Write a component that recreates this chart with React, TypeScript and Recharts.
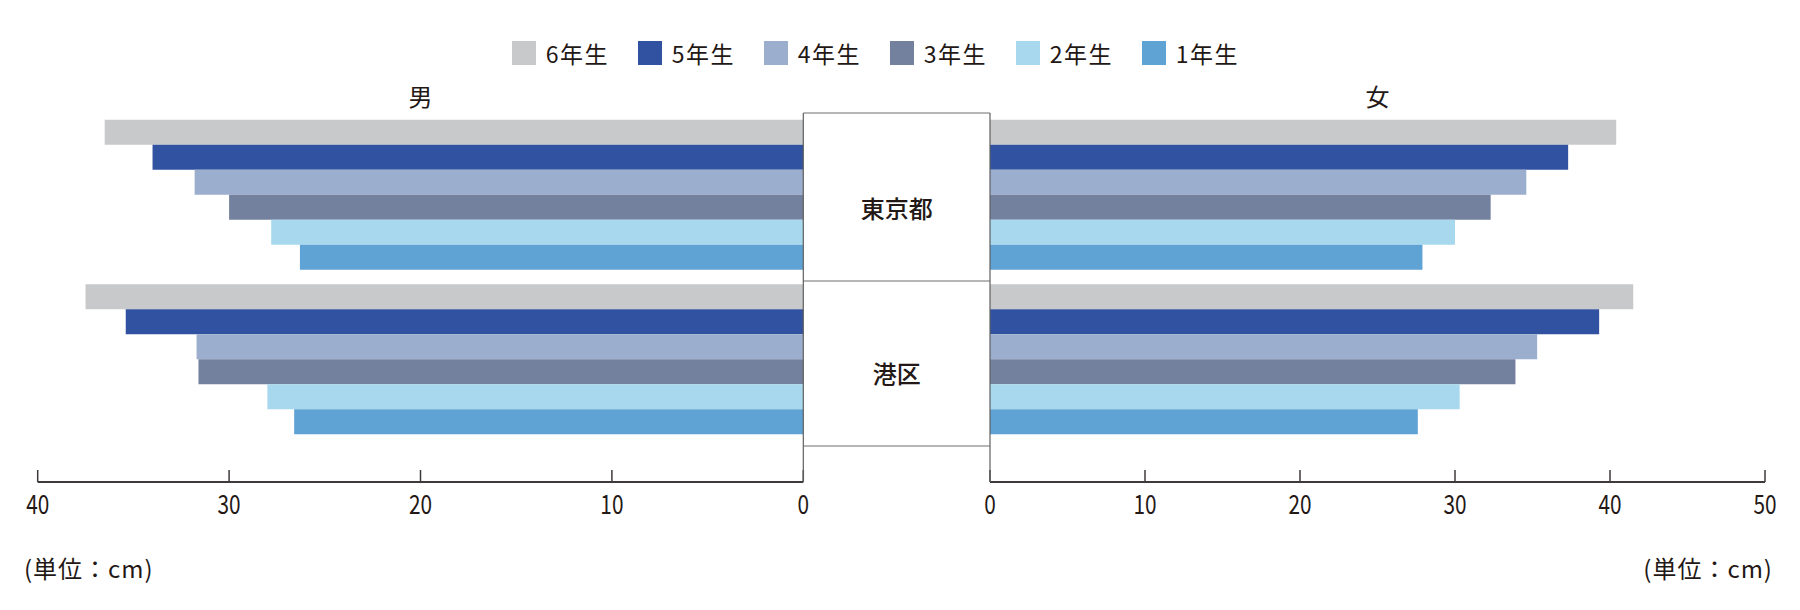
import React from 'react';
import { BarChart, Bar, XAxis, YAxis } from 'recharts';

const categories = ['東京都', '港区'];
const seriesNames = ['6年生', '5年生', '4年生', '3年生', '2年生', '1年生'];
const seriesColors = ['#c8c9cb', '#3152a0', '#9caecd', '#73819e', '#a7d8ee', '#5fa2d4'];

const male6 = [36.5, 37.5];
const male5 = [34.0, 35.4];
const male4 = [31.8, 31.7];
const male3 = [30.0, 31.6];
const male2 = [27.8, 28.0];
const male1 = [26.3, 26.6];

const female6 = [40.4, 41.5];
const female5 = [37.3, 39.3];
const female4 = [34.6, 35.3];
const female3 = [32.3, 33.9];
const female2 = [30.0, 30.3];
const female1 = [27.9, 27.6];

const maleTicks = [0, 10, 20, 30, 40];
const femaleTicks = [0, 10, 20, 30, 40, 50];
const genderLabels = ['男', '女'];
const unitLabel = '(単位：cm)';

const keys = ['s6', 's5', 's4', 's3', 's2', 's1'];
const maleSeries = [male6, male5, male4, male3, male2, male1];
const femaleSeries = [female6, female5, female4, female3, female2, female1];

const build = (series: number[][]) =>
  categories.map((c, i) => {
    const row: any = { region: c };
    keys.forEach((k, j) => (row[k] = series[j][i]));
    return row;
  });

const maleData = build(maleSeries);
const femaleData = build(femaleSeries);

const FONT = "'Noto Sans CJK JP', 'Noto Sans', sans-serif";
const INK = '#231815';
const AXIS = '#3e3a39';

const XTick = (props: any) => {
  const { x, y, payload } = props;
  return (
    <g>
      <line x1={x} x2={x} y1={y - 12} y2={y} stroke={AXIS} strokeWidth={1.5} />
      <text
        transform={`translate(${x},${y + 21}) scale(0.8,1)`}
        textAnchor="middle"
        dominantBaseline="central"
        fontSize={26}
        fontFamily={FONT}
        fill={INK}
      >
        {payload.value}
      </text>
    </g>
  );
};

const RegionTick = (props: any) => {
  const { x, y, payload } = props;
  return (
    <text
      x={x - 93.3}
      y={y + 11.5}
      textAnchor="middle"
      dominantBaseline="central"
      fontSize={24}
      fontWeight={500}
      fontFamily={FONT}
      fill={INK}
    >
      {payload.value}
    </text>
  );
};

const TOP = 113.75;
const BOTTOM_MARGIN = 98;

export default function App() {
  return (
    <div style={{ position: 'absolute', left: 0, top: 0, width: 1800, height: 610, background: '#fff', fontFamily: FONT }}>
      {/* left (male) */}
      <div style={{ position: 'absolute', left: 0, top: 0 }}>
        <BarChart
          width={1800}
          height={610}
          data={maleData}
          layout="vertical"
          margin={{ top: TOP, bottom: BOTTOM_MARGIN, left: 37.7, right: 996.7 }}
          barCategoryGap={6}
          barGap={0}
        >
          <XAxis
            type="number"
            domain={[0, 40]}
            ticks={maleTicks}
            reversed
            interval={0}
            height={30}
            tickSize={0}
            tickMargin={0}
            tickLine={false}
            axisLine={{ stroke: AXIS, strokeWidth: 2 }}
            tick={<XTick />}
          />
          <YAxis type="category" dataKey="region" hide padding={{ top: 0, bottom: 39.25 }} />
          {keys.map((k, j) => (
            <Bar key={k} dataKey={k} fill={seriesColors[j]} isAnimationActive={false} />
          ))}
        </BarChart>
      </div>
      {/* right (female) */}
      <div style={{ position: 'absolute', left: 0, top: 0 }}>
        <BarChart
          width={1800}
          height={610}
          data={femaleData}
          layout="vertical"
          margin={{ top: TOP, bottom: BOTTOM_MARGIN, left: 803.3, right: 35 }}
          barCategoryGap={6}
          barGap={0}
        >
          <XAxis
            type="number"
            domain={[0, 50]}
            ticks={femaleTicks}
            interval={0}
            height={30}
            tickSize={0}
            tickMargin={0}
            tickLine={false}
            axisLine={{ stroke: AXIS, strokeWidth: 2 }}
            tick={<XTick />}
          />
          <YAxis
            type="category"
            dataKey="region"
            width={186.7}
            padding={{ top: 0, bottom: 39.25 }}
            tickSize={0}
            tickMargin={0}
            tickLine={false}
            axisLine={false}
            tick={<RegionTick />}
          />
          {keys.map((k, j) => (
            <Bar key={k} dataKey={k} fill={seriesColors[j]} isAnimationActive={false} />
          ))}
        </BarChart>
      </div>
      {/* overlay: center box, titles, units */}
      <svg width={1800} height={610} style={{ position: 'absolute', left: 0, top: 0, pointerEvents: 'none' }}>
        <line x1={803.3} x2={990} y1={113} y2={113} stroke="#6f6f6f" strokeWidth={1.2} />
        <line x1={803.3} x2={990} y1={281} y2={281} stroke="#6f6f6f" strokeWidth={1.2} />
        <line x1={803.3} x2={990} y1={446} y2={446} stroke="#6f6f6f" strokeWidth={1.2} />
        <line x1={803.3} x2={803.3} y1={113} y2={482} stroke="#5f5f5f" strokeWidth={1.2} />
        <line x1={990} x2={990} y1={113} y2={482} stroke="#5f5f5f" strokeWidth={1.2} />
        <text x={420.5} y={95.3} textAnchor="middle" dominantBaseline="central" fontSize={24} fontFamily={FONT} fill={INK}>
          {genderLabels[0]}
        </text>
        <text x={1377.6} y={95.3} textAnchor="middle" dominantBaseline="central" fontSize={24} fontFamily={FONT} fill={INK}>
          {genderLabels[1]}
        </text>
        <text x={24} y={567} textAnchor="start" dominantBaseline="central" fontSize={24} letterSpacing={1} fontFamily={FONT} fill={INK}>
          {unitLabel}
        </text>
        <text x={1773} y={567} textAnchor="end" dominantBaseline="central" fontSize={24} letterSpacing={1} fontFamily={FONT} fill={INK}>
          {unitLabel}
        </text>
      </svg>
      {/* legend */}
      <div style={{ position: 'absolute', left: 511.7, top: 40.7, display: 'flex' }}>
        {seriesNames.map((n, i) => (
          <div key={n} style={{ width: 126, display: 'flex', alignItems: 'center', height: 24 }}>
            <div style={{ width: 24, height: 24, background: seriesColors[i] }} />
            <span style={{ marginLeft: 10, fontSize: 23, letterSpacing: 1.5, color: INK, lineHeight: '24px' }}>{n}</span>
          </div>
        ))}
      </div>
    </div>
  );
}
